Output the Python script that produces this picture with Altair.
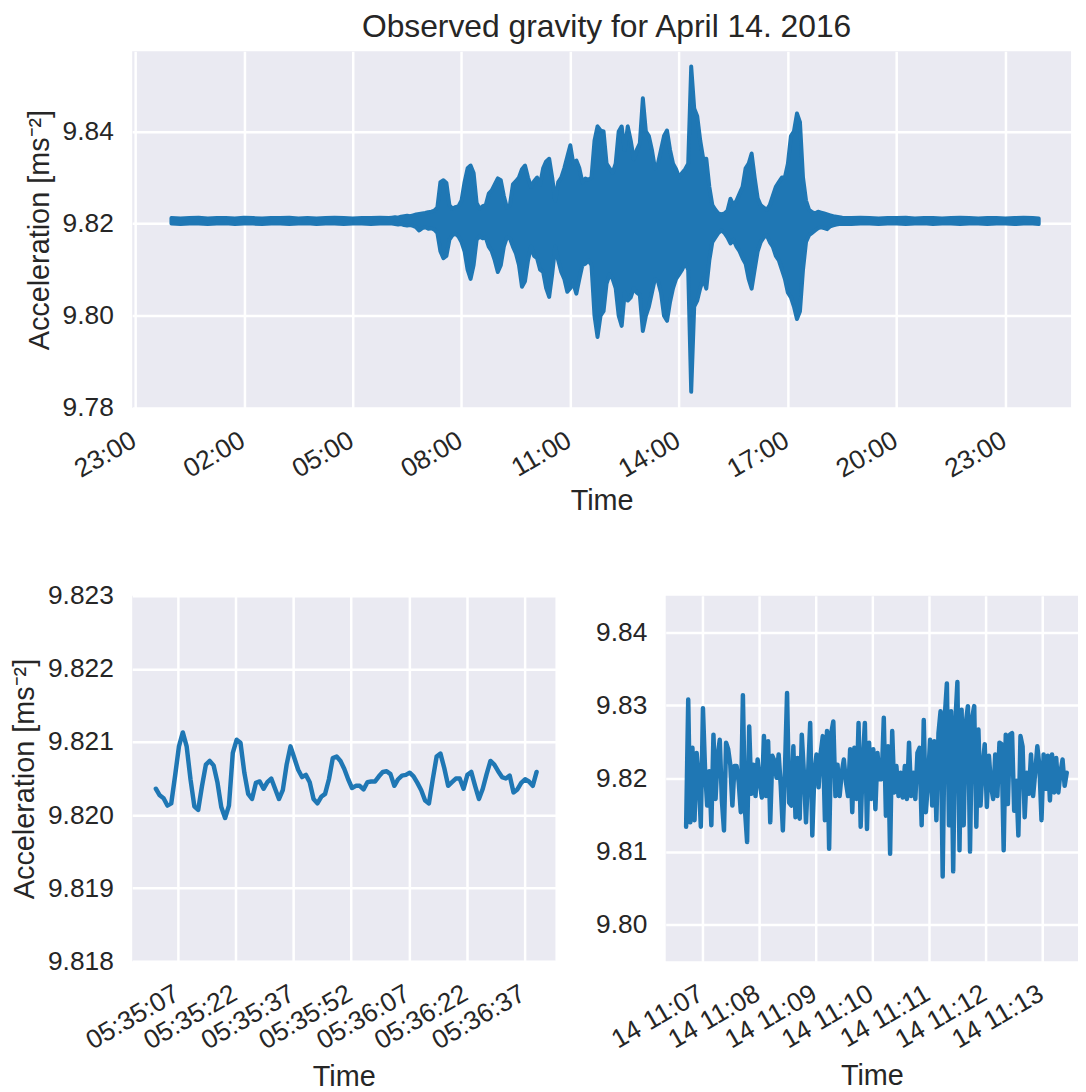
import altair as alt
import pandas as pd

BLUE = "#1f77b4"
TEXT = "#262626"
FONT = "Liberation Sans"
YTITLE = "Acceleration [ms\u207b\u00b2]"

# ---------------- top panel: envelope of the whole day (minutes after 00:00, 14 April 2016)
TOP_MINUTES = list(range(0, 360, 15)) + list(range(360, 1115, 5)) + list(range(1125, 1440, 15)) + [1435]

TOP_UPPER = (
    # quiet 00:00-05:45
    [9.8212, 9.8211, 9.8212, 9.8213, 9.8211, 9.8212, 9.8212, 9.8211, 9.8213, 9.8212, 9.8211, 9.8212,
     9.8212, 9.8213, 9.8211, 9.8212, 9.8211, 9.8212, 9.8213, 9.8212, 9.8211, 9.8212, 9.8212, 9.8213]
    # 06:00
    + [9.8212, 9.8213, 9.8214, 9.8213, 9.8215, 9.8216, 9.8217, 9.8216, 9.8218, 9.8220, 9.8221, 9.8222]
    # 07:00
    + [9.8223, 9.8225, 9.8226, 9.8228, 9.8235, 9.8290, 9.8294, 9.8288, 9.8240, 9.8232, 9.8236, 9.8238]
    # 08:00
    + [9.8250, 9.8290, 9.8320, 9.8326, 9.8310, 9.8245, 9.8232, 9.8238, 9.8240, 9.8265, 9.8272, 9.8285]
    # 09:00
    + [9.8298, 9.8294, 9.8260, 9.8235, 9.8240, 9.8285, 9.8292, 9.8300, 9.8318, 9.8326, 9.8300, 9.8280]
    # 10:00
    + [9.8292, 9.8300, 9.8285, 9.8320, 9.8335, 9.8341, 9.8300, 9.8250, 9.8290, 9.8300, 9.8320, 9.8345]
    # 11:00
    + [9.8370, 9.8330, 9.8337, 9.8320, 9.8290, 9.8298, 9.8295, 9.8300, 9.8380, 9.8411, 9.8402, 9.8400]
    # 12:00
    + [9.8330, 9.8320, 9.8310, 9.8330, 9.8400, 9.8411, 9.8360, 9.8411, 9.8380, 9.8340, 9.8360, 9.8374]
    # 13:00
    + [9.8472, 9.8400, 9.8390, 9.8360, 9.8320, 9.8330, 9.8360, 9.8390, 9.8402, 9.8360, 9.8330, 9.8318]
    # 14:00
    + [9.8300, 9.8310, 9.8318, 9.8330, 9.8541, 9.8450, 9.8433, 9.8380, 9.8340, 9.8341, 9.8280, 9.8240]
    # 15:00
    + [9.8230, 9.8222, 9.8220, 9.8222, 9.8228, 9.8254, 9.8240, 9.8250, 9.8265, 9.8280, 9.8320, 9.8330]
    # 16:00
    + [9.8352, 9.8300, 9.8255, 9.8240, 9.8235, 9.8230, 9.8240, 9.8260, 9.8280, 9.8290, 9.8300, 9.8300]
    # 17:00
    + [9.8330, 9.8390, 9.8400, 9.8439, 9.8420, 9.8300, 9.8250, 9.8230, 9.8225, 9.8222, 9.8226, 9.8224]
    # 18:00-18:30
    + [9.8222, 9.8220, 9.8218, 9.8216, 9.8215, 9.8214, 9.8213]
    # quiet 18:45-23:55
    + [9.8212, 9.8213, 9.8212, 9.8211, 9.8212, 9.8212, 9.8213, 9.8211, 9.8212, 9.8212, 9.8211,
       9.8212, 9.8213, 9.8212, 9.8211, 9.8212, 9.8212, 9.8211, 9.8212, 9.8213, 9.8212, 9.8211]
)

TOP_LOWER = (
    [9.8200, 9.8199, 9.8200, 9.8200, 9.8199, 9.8200, 9.8201, 9.8199, 9.8200, 9.8200, 9.8199, 9.8200,
     9.8200, 9.8199, 9.8200, 9.8201, 9.8199, 9.8200, 9.8200, 9.8199, 9.8200, 9.8200, 9.8199, 9.8200]
    + [9.8200, 9.8200, 9.8199, 9.8198, 9.8199, 9.8197, 9.8196, 9.8197, 9.8195, 9.8192, 9.8185, 9.8190]
    + [9.8192, 9.8189, 9.8190, 9.8187, 9.8180, 9.8140, 9.8125, 9.8130, 9.8165, 9.8175, 9.8178, 9.8172]
    + [9.8160, 9.8140, 9.8100, 9.8080, 9.8110, 9.8165, 9.8172, 9.8168, 9.8170, 9.8150, 9.8140, 9.8120]
    + [9.8095, 9.8110, 9.8150, 9.8170, 9.8168, 9.8150, 9.8135, 9.8110, 9.8063, 9.8075, 9.8120, 9.8150]
    + [9.8130, 9.8125, 9.8100, 9.8095, 9.8060, 9.8041, 9.8090, 9.8150, 9.8120, 9.8095, 9.8080, 9.8052]
    + [9.8060, 9.8070, 9.8048, 9.8080, 9.8110, 9.8113, 9.8120, 9.8110, 9.8000, 9.7954, 9.8000, 9.8010]
    + [9.8070, 9.8090, 9.8080, 9.8060, 9.8000, 9.7978, 9.8050, 9.8033, 9.8040, 9.8060, 9.8050, 9.8045]
    + [9.7967, 9.8000, 9.8020, 9.8050, 9.8080, 9.8075, 9.8050, 9.8000, 9.7989, 9.8030, 9.8060, 9.8080]
    + [9.8090, 9.8100, 9.8115, 9.8100, 9.7835, 9.8020, 9.8033, 9.8060, 9.8080, 9.8059, 9.8120, 9.8160]
    + [9.8170, 9.8180, 9.8185, 9.8180, 9.8170, 9.8157, 9.8165, 9.8150, 9.8140, 9.8125, 9.8113, 9.8080]
    + [9.8059, 9.8100, 9.8140, 9.8160, 9.8170, 9.8175, 9.8160, 9.8150, 9.8130, 9.8120, 9.8100, 9.8080]
    + [9.8050, 9.8040, 9.8020, 9.7993, 9.8010, 9.8100, 9.8160, 9.8175, 9.8180, 9.8185, 9.8190, 9.8192]
    + [9.8190, 9.8188, 9.8194, 9.8196, 9.8198, 9.8199, 9.8199]
    + [9.8199, 9.8200, 9.8200, 9.8199, 9.8200, 9.8200, 9.8199, 9.8200, 9.8201, 9.8199, 9.8200,
       9.8200, 9.8199, 9.8200, 9.8200, 9.8199, 9.8200, 9.8200, 9.8199, 9.8200, 9.8200, 9.8199]
)

# ---------------- bottom-left: 1 Hz samples starting 05:35:01.2
BL_START = "2016-04-14 05:35:01.200"
BL_VALUES = [
    9.82036, 9.82027, 9.82023, 9.82013, 9.82016, 9.82054, 9.82094, 9.82113, 9.82094, 9.82049,
    9.82012, 9.82007, 9.82040, 9.82069, 9.82074, 9.82068, 9.82045, 9.82011, 9.81996, 9.82013,
    9.82085, 9.82103, 9.82099, 9.82058, 9.82029, 9.82022, 9.82044, 9.82046, 9.82036, 9.82045,
    9.82050, 9.82036, 9.82022, 9.82034, 9.82069, 9.82094, 9.82078, 9.82062, 9.82052, 9.82055,
    9.82045, 9.82022, 9.82016, 9.82025, 9.82029, 9.82049, 9.82078, 9.82080, 9.82074, 9.82063,
    9.82049, 9.82037, 9.82040, 9.82040, 9.82035, 9.82045, 9.82046, 9.82046, 9.82053, 9.82059,
    9.82060, 9.82056, 9.82040, 9.82049, 9.82054, 9.82055, 9.82058, 9.82053, 9.82044, 9.82034,
    9.82020, 9.82016, 9.82049, 9.82080, 9.82084, 9.82064, 9.82040, 9.82045, 9.82050, 9.82050,
    9.82036, 9.82055, 9.82059, 9.82040, 9.82022, 9.82036, 9.82056, 9.82074, 9.82069, 9.82060,
    9.82052, 9.82050, 9.82054, 9.82031, 9.82035, 9.82044, 9.82049, 9.82046, 9.82040, 9.82059,
]

# ---------------- bottom-right: samples from 11:06:43 to 11:13:25.6
BR_START = "2016-04-14 11:06:43.100"
BR_END = "2016-04-14 11:13:25.600"
BR_VALUES = [
    9.8134, 9.8308, 9.8140, 9.8242, 9.8143, 9.8235, 9.8199, 9.8134, 9.8296, 9.8213,
    9.8163, 9.8210, 9.8136, 9.8260, 9.8172, 9.8231, 9.8253, 9.8170, 9.8129, 9.8249,
    9.8240, 9.8219, 9.8163, 9.8217, 9.8217, 9.8195, 9.8154, 9.8314, 9.8156, 9.8113,
    9.8271, 9.8179, 9.8219, 9.8176, 9.8226, 9.8195, 9.8174, 9.8258, 9.8176, 9.8251,
    9.8140, 9.8231, 9.8224, 9.8201, 9.8233, 9.8190, 9.8129, 9.8213, 9.8317, 9.8167,
    9.8163, 9.8244, 9.8147, 9.8228, 9.8145, 9.8260, 9.8208, 9.8140, 9.8206, 9.8276,
    9.8122, 9.8208, 9.8233, 9.8188, 9.8235, 9.8258, 9.8143, 9.8265, 9.8104, 9.8262,
    9.8278, 9.8176, 9.8219, 9.8176, 9.8208, 9.8226, 9.8195, 9.8176, 9.8240, 9.8154,
    9.8242, 9.8172, 9.8276, 9.8134, 9.8222, 9.8276, 9.8131, 9.8249, 9.8172, 9.8240,
    9.8158, 9.8235, 9.8199,
    9.8199, 9.8283, 9.8149, 9.8244, 9.8097, 9.8265, 9.8181, 9.8217, 9.8176, 9.8208,
    9.8174, 9.8217, 9.8172, 9.8249, 9.8176, 9.8208, 9.8172, 9.8235, 9.8242, 9.8136,
    9.8280, 9.8154, 9.8195, 9.8253, 9.8163, 9.8251, 9.8143, 9.8262, 9.8292, 9.8066,
    9.8285, 9.8330, 9.8136, 9.8292, 9.8073, 9.8276, 9.8332, 9.8102, 9.8294, 9.8136,
    9.8276, 9.8299, 9.8100, 9.8283, 9.8299, 9.8134, 9.8267, 9.8163, 9.8217, 9.8247,
    9.8161, 9.8231, 9.8190, 9.8172, 9.8233, 9.8176, 9.8249, 9.8247, 9.8102, 9.8260,
    9.8165, 9.8260, 9.8262, 9.8156, 9.8197, 9.8122, 9.8258, 9.8244, 9.8147, 9.8208,
    9.8179, 9.8233, 9.8176, 9.8208, 9.8244, 9.8217, 9.8143, 9.8233, 9.8186, 9.8231,
    9.8170, 9.8233, 9.8181, 9.8228, 9.8181, 9.8208, 9.8226, 9.8190, 9.8208,
]

assert len(TOP_MINUTES) == len(TOP_UPPER) == len(TOP_LOWER)

top_df = pd.DataFrame({
    "time": pd.Timestamp("2016-04-14 00:00") + pd.to_timedelta(TOP_MINUTES, unit="min"),
    "upper": TOP_UPPER,
    "lower": TOP_LOWER,
})
bl_df = pd.DataFrame({
    "time": pd.date_range(BL_START, periods=len(BL_VALUES), freq="1s"),
    "acc": BL_VALUES,
})
br_df = pd.DataFrame({
    "time": pd.date_range(BR_START, BR_END, periods=len(BR_VALUES)),
    "acc": BR_VALUES,
})


def dt(d, h, m, s=0, ms=0):
    return alt.DateTime(year=2016, month=4, date=d, hours=h, minutes=m, seconds=s, milliseconds=ms)


XAXIS = dict(labelAngle=-30, labelAlign="right", labelBaseline="top", labelPadding=19,
             labelOffset=-8, labelOverlap=False, title="Time")

top_ticks = [dt(13, 23, 0)] + [dt(14, h, 0) for h in (2, 5, 8, 11, 14, 17, 20, 23)]
top = alt.Chart(top_df).mark_area(
    fill=BLUE, stroke=BLUE, strokeWidth=4, strokeJoin="round", strokeCap="round", clip=True
).encode(
    x=alt.X("time:T", scale=alt.Scale(domain=[dt(13, 22, 55, 4), dt(15, 0, 48, 30)]),
            axis=alt.Axis(values=top_ticks, format="%H:%M", titlePadding=4, **XAXIS)),
    y=alt.Y("lower:Q", scale=alt.Scale(domain=[9.78, 9.8574], nice=False, zero=False),
            axis=alt.Axis(values=[9.78, 9.80, 9.82, 9.84], format=".2f", title=YTITLE)),
    y2="upper:Q",
).properties(width=945, height=359,
             title=alt.TitleParams("Observed gravity for April 14. 2016", dx=5))

bl_ticks = [dt(14, 5, 35, 7 + 15 * k) if 7 + 15 * k < 60 else dt(14, 5, 36, 7 + 15 * k - 60)
            for k in range(7)]
bl = alt.Chart(bl_df).mark_line(
    color=BLUE, strokeWidth=4.5, strokeJoin="round", strokeCap="round", clip=True
).encode(
    x=alt.X("time:T", scale=alt.Scale(domain=[dt(14, 5, 34, 55, 40), dt(14, 5, 36, 45, 90)]),
            axis=alt.Axis(values=bl_ticks, format="%H:%M:%S", titlePadding=8, **XAXIS)),
    y=alt.Y("acc:Q", scale=alt.Scale(domain=[9.818, 9.823], nice=False, zero=False),
            axis=alt.Axis(values=[9.818, 9.819, 9.820, 9.821, 9.822, 9.823], format=".3f",
                          title=YTITLE)),
).properties(width=426, height=368)

br_ticks = [dt(14, 11, m) for m in range(7, 14)]
br = alt.Chart(br_df).mark_line(
    color=BLUE, strokeWidth=4.5, strokeJoin="round", strokeCap="round", clip=True
).encode(
    x=alt.X("time:T", scale=alt.Scale(domain=[dt(14, 11, 6, 21, 500), dt(14, 11, 13, 37, 500)]),
            axis=alt.Axis(values=br_ticks, format="%d %H:%M", titlePadding=8, **XAXIS)),
    y=alt.Y("acc:Q", scale=alt.Scale(domain=[9.795, 9.845], nice=False, zero=False),
            axis=alt.Axis(values=[9.80, 9.81, 9.82, 9.83, 9.84], format=".2f", title=None)),
).properties(width=415, height=368)

chart = alt.vconcat(
    top, alt.hconcat(bl, br, spacing=40), spacing=67
).properties(
    padding={"left": 2, "top": 0, "right": 0, "bottom": 0}, background="white"
).configure_view(
    fill="#EAEAF2", strokeWidth=0
).configure_axis(
    labelFont=FONT, labelFontSize=26.5, labelColor=TEXT,
    titleFont=FONT, titleFontSize=29, titleColor=TEXT, titleFontWeight="normal",
    grid=True, gridColor="white", gridWidth=2.5, gridOpacity=1,
    domain=False, ticks=False, tickSize=0,
).configure_axisY(
    labelPadding=19, titlePadding=8
).configure_title(
    font=FONT, fontSize=32, fontWeight="normal", color=TEXT, offset=7, anchor="middle"
)

chart.save("out.html", embed_options={"renderer": "svg", "actions": False})
